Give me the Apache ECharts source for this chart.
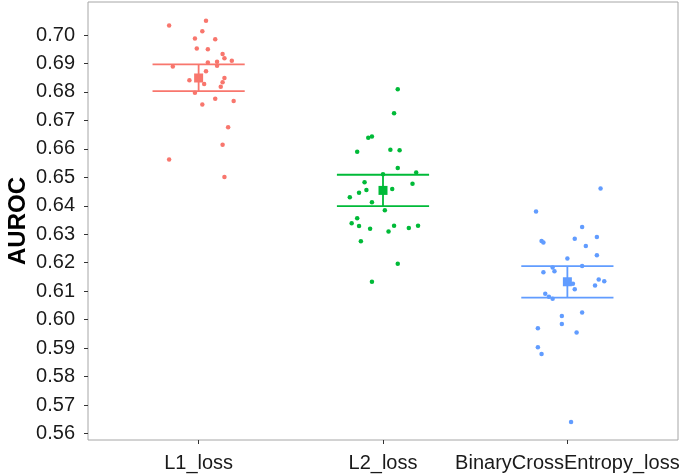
<!DOCTYPE html>
<html>
<head>
<meta charset="utf-8">
<script src="https://cdn.jsdelivr.net/npm/echarts@6/dist/echarts.min.js"></script>
<style>
html,body{margin:0;padding:0;background:#fff;}
#chart{width:685px;height:476px;}
</style>
</head>
<body>
<div id="chart"></div>
<script>
var categories = ['L1_loss', 'L2_loss', 'BinaryCrossEntropy_loss'];
var colors = ['#F8766D', '#00BA38', '#619CFF'];
var yTicks = [0.56,0.57,0.58,0.59,0.60,0.61,0.62,0.63,0.64,0.65,0.66,0.67,0.68,0.69,0.70];

var l1Values = [0.7033,0.7050,0.7013,0.6988,0.6985,0.6953,0.6950,0.6933,0.6918,0.6910,0.6906,0.6903,0.6889,0.6892,0.6873,0.6841,0.6849,0.6834,0.6828,0.6818,0.6797,0.6776,0.6768,0.6756,0.6676,0.6614,0.6563,0.6501];
var l1Jitter = [-0.16,0.04,0.02,-0.02,0.09,-0.01,0.05,0.13,0.14,0.18,0.10,0.05,-0.14,0.10,0.04,-0.05,0.14,0.13,0.03,0.12,-0.02,0.09,0.19,0.02,0.16,0.13,-0.16,0.14];

var l2Values = [0.6809,0.6725,0.6639,0.6643,0.6590,0.6597,0.6595,0.6533,0.6517,0.6511,0.6483,0.6477,0.6455,0.6459,0.6446,0.6430,0.6412,0.6384,0.6356,0.6339,0.6329,0.6319,0.6330,0.6310,0.6322,0.6330,0.6275,0.6196,0.6133];
var l2Jitter = [0.08,0.06,-0.08,-0.06,-0.14,0.04,0.09,0.08,0.18,0.00,-0.10,0.16,-0.09,0.05,-0.13,-0.18,-0.06,0.01,-0.14,-0.17,-0.13,-0.07,0.06,0.03,0.14,0.19,-0.12,0.08,-0.06];

var bceValues = [0.6461,0.6380,0.6325,0.6290,0.6284,0.6276,0.6271,0.6259,0.6226,0.6215,0.6188,0.6183,0.6170,0.6166,0.6141,0.6135,0.6120,0.6126,0.6107,0.6091,0.6080,0.6073,0.6025,0.6013,0.5985,0.5970,0.5955,0.5903,0.5879,0.5640];
var bceJitter = [0.18,-0.17,0.08,0.16,0.04,-0.14,-0.13,0.10,0.16,0.00,0.08,-0.08,-0.07,-0.13,0.17,0.20,0.15,0.03,0.04,-0.12,-0.10,-0.08,0.08,-0.03,-0.03,-0.16,0.05,-0.16,-0.14,0.02];

var means = [0.6849, 0.6454, 0.6133];
var ciLow = [0.6803, 0.6399, 0.6077];
var ciHigh = [0.6897, 0.6509, 0.6188];

var groups = [[l1Values, l1Jitter], [l2Values, l2Jitter], [bceValues, bceJitter]];
var series = [];
groups.forEach(function (g, i) {
  var data = g[0].map(function (v, k) { return [i + 1 + g[1][k], v]; });
  series.push({
    type: 'scatter', data: data, symbol: 'circle', symbolSize: 4.5,
    itemStyle: { color: colors[i], opacity: 1 }, silent: true, z: 2
  });
});
var ebData = categories.map(function (c, i) { return [i + 1, ciLow[i], ciHigh[i], i]; });
series.push({
  type: 'custom', z: 3, silent: true,
  data: ebData,
  encode: { x: 0, y: [1, 2] },
  renderItem: function (params, api) {
    var x = api.value(0), lo = api.value(1), hi = api.value(2), ci = api.value(3);
    var pLo = api.coord([x, lo]), pHi = api.coord([x, hi]);
    var pL1 = api.coord([x - 0.25, lo]), pR1 = api.coord([x + 0.25, lo]);
    var pL2 = api.coord([x - 0.25, hi]), pR2 = api.coord([x + 0.25, hi]);
    var st = { stroke: colors[ci], lineWidth: 1.8 };
    return { type: 'group', children: [
      { type: 'line', shape: { x1: pLo[0], y1: pLo[1], x2: pHi[0], y2: pHi[1] }, style: st },
      { type: 'line', shape: { x1: pL1[0], y1: pL1[1], x2: pR1[0], y2: pR1[1] }, style: st },
      { type: 'line', shape: { x1: pL2[0], y1: pL2[1], x2: pR2[0], y2: pR2[1] }, style: st }
    ]};
  }
});
categories.forEach(function (c, i) {
  series.push({
    type: 'scatter', data: [[i + 1, means[i]]], symbol: 'rect', symbolSize: 9,
    itemStyle: { color: colors[i], opacity: 1 }, silent: true, z: 4
  });
});

var chart = echarts.init(document.getElementById('chart'), null, { renderer: 'canvas' });
chart.setOption({
  animation: false,
  backgroundColor: '#fff',
  grid: { left: 88, top: 2, width: 590, height: 438, containLabel: false, outerBoundsMode: 'none',
    show: true, borderColor: '#A6A6A6', borderWidth: 1, backgroundColor: 'transparent' },
  xAxis: {
    type: 'value', min: 0.4, max: 3.6,
    axisLine: { show: false },
    splitLine: { show: false },
    axisTick: { show: true, customValues: [1, 2, 3], length: 4, lineStyle: { color: '#333' } },
    axisLabel: { customValues: [1, 2, 3], margin: 13, fontFamily: 'Liberation Sans, Arial', fontSize: 20, color: '#1a1a1a',
      formatter: function (v) { return categories[Math.round(v) - 1]; } }
  },
  yAxis: {
    type: 'value', min: 0.5577, max: 0.7116,
    name: 'AUROC', nameLocation: 'middle', nameGap: 58, nameMoveOverlap: false,
    nameTextStyle: { fontFamily: 'Liberation Sans, Arial', fontSize: 24, fontWeight: 'bold', color: '#000' },
    axisLine: { show: false },
    splitLine: { show: false },
    axisTick: { show: true, customValues: yTicks, length: 4, lineStyle: { color: '#333' } },
    axisLabel: { customValues: yTicks, margin: 13, fontFamily: 'Liberation Sans, Arial', fontSize: 20, color: '#1a1a1a',
      formatter: function (v) { return v.toFixed(2); } }
  },
  series: series
});
</script>
</body>
</html>
